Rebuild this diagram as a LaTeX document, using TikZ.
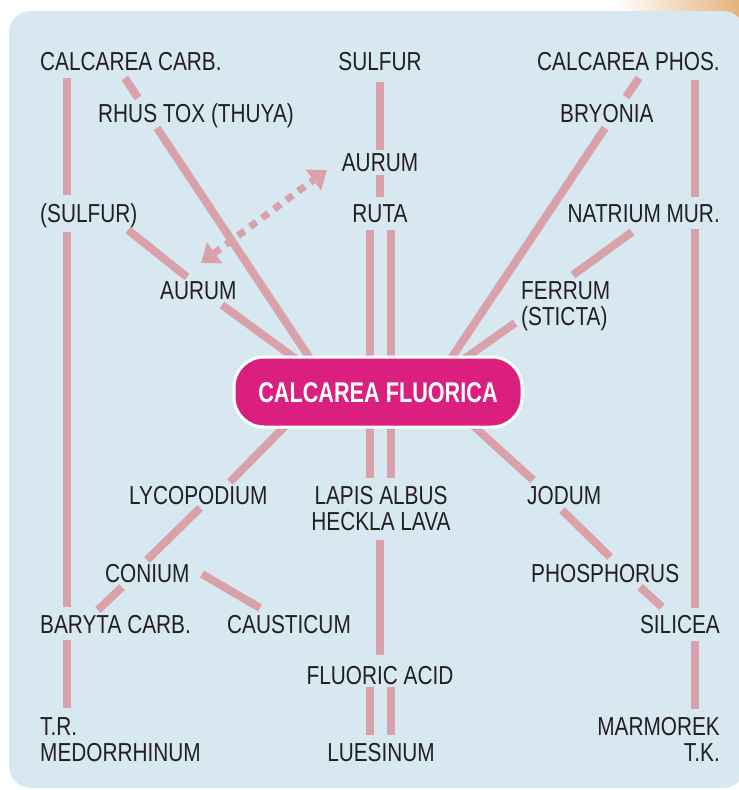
\documentclass[tikz,border=0pt]{standalone}
\usepackage{fontspec}
\setmainfont{Liberation Sans}[FakeStretch=0.80]
\newfontfamily\pillfont{Liberation Sans}[FakeStretch=0.76]
\usetikzlibrary{calc,arrows.meta}
\definecolor{bgblue}{HTML}{D8E8F1}
\definecolor{pinkln}{HTML}{D9A2AA}
\definecolor{magent}{HTML}{DA1F7E}
\definecolor{txtc}{HTML}{231F20}
\definecolor{tan}{HTML}{E6B27C}
\pgfdeclarelayer{background}
\pgfsetlayers{background,main}
\tikzset{
  lbl/.style={font=\fontsize{26}{30}\selectfont, text=txtc, inner sep=0pt},
  pill/.style={draw=white, line width=3pt, fill=magent, rounded corners=30pt,
    minimum width=288pt, minimum height=70pt, text=white, inner sep=0pt,
    text height=20pt, text depth=0pt,
    font=\pillfont\bfseries\fontsize{28.5}{30}\selectfont},
  conn/.style={draw=pinkln, line width=8pt},
  dotarrow/.style={draw=pinkln, line width=7pt, dash pattern=on 8pt off 7pt,
    {Triangle[length=17pt,width=25pt]}-{Triangle[length=17pt,width=25pt]}}
}
\begin{document}
\begin{tikzpicture}[x=1pt,y=-1pt]
\useasboundingbox (0,0) rectangle (739,790);
% labels
\node[lbl, anchor=base west] (ccarb) at (40,70) {CALCAREA CARB.};
\node[lbl, anchor=base] (sulfur) at (380,70) {SULFUR};
\node[lbl, anchor=base east] (cphos) at (720,70) {CALCAREA PHOS.};
\node[lbl, anchor=base west] (rhus) at (98,122) {RHUS TOX (THUYA)};
\node[lbl, anchor=base west] (bryonia) at (560,122) {BRYONIA};
\node[lbl, anchor=base] (aurum1) at (380,171) {AURUM};
\node[lbl, anchor=base west] (sulf2) at (40,222) {(SULFUR)};
\node[lbl, anchor=base] (ruta) at (380,222) {RUTA};
\node[lbl, anchor=base east] (natrium) at (720,222) {NATRIUM MUR.};
\node[lbl, anchor=base west] (aurum2) at (160,299) {AURUM};
\node[lbl, anchor=base west] (ferrumA) at (521,299) {FERRUM};
\node[lbl, anchor=base west] (ferrumB) at (521,325) {(STICTA)};
\node[pill] (pill) at (378,392) {CALCAREA FLUORICA};
\node[lbl, anchor=base west] (lyco) at (129,504) {LYCOPODIUM};
\node[lbl, anchor=base] (lapisA) at (381,504) {LAPIS ALBUS};
\node[lbl, anchor=base] (lapisB) at (381,530) {HECKLA LAVA};
\node[lbl, anchor=base west] (jodum) at (527,504) {JODUM};
\node[lbl, anchor=base west] (conium) at (105,582) {CONIUM};
\node[lbl, anchor=base west] (phos) at (531,582) {PHOSPHORUS};
\node[lbl, anchor=base west] (baryta) at (40,633) {BARYTA CARB.};
\node[lbl, anchor=base west] (caust) at (227,633) {CAUSTICUM};
\node[lbl, anchor=base east] (silicea) at (720,633) {SILICEA};
\node[lbl, anchor=base] (fluoric) at (380,684) {FLUORIC ACID};
\node[lbl, anchor=base west] (trmA) at (40,735) {T.R.};
\node[lbl, anchor=base west] (trmB) at (40,761) {MEDORRHINUM};
\node[lbl, anchor=base] (lues) at (381,761) {LUESINUM};
\node[lbl, anchor=base east] (marmA) at (720,735) {MARMOREK};
\node[lbl, anchor=base east] (marmB) at (720,761) {T.K.};

\begin{pgfonlayer}{background}
\shade[left color=white, right color=tan] (615,0) rectangle (739,40);
\fill[bgblue, rounded corners=22pt] (9,11) rectangle (745,788);
% left column
\draw[conn] ($(ccarb.base west)+(27,8)$) -- ($(sulf2.base west)+(27,-27)$);
\draw[conn] ($(sulf2.base west)+(27,10)$) -- ($(baryta.base west)+(27,-26)$);
\draw[conn] ($(baryta.base west)+(27,7)$) -- ($(trmA.base west)+(27,-27)$);
% right column
\draw[conn] ($(cphos.base east)+(-25,10)$) -- ($(natrium.base east)+(-25,-25)$);
\draw[conn] ($(natrium.base east)+(-25,7)$) -- ($(silicea.base east)+(-25,-25)$);
\draw[conn] ($(silicea.base east)+(-25,8)$) -- ($(marmA.base east)+(-25,-26)$);
% centre column
\draw[conn] ($(sulfur.base)+(0,12)$) -- ($(aurum1.base)+(0,-21)$);
\draw[conn] ($(aurum1.base)+(0,4)$) -- ($(ruta.base)+(0,-25)$);
\draw[conn] ($(ruta.base)+(-10,8)$) -- ($(pill.center)+(-8,-22)$);
\draw[conn] ($(ruta.base)+(11,8)$) -- ($(pill.center)+(13,-22)$);
\draw[conn] ($(pill.center)+(-8,23)$) -- ($(lapisA.base)+(-11,-26)$);
\draw[conn] ($(pill.center)+(13,23)$) -- ($(lapisA.base)+(10,-26)$);
\draw[conn] ($(lapisB.base)+(-1,10)$) -- ($(fluoric.base)+(0,-29)$);
\draw[conn] ($(fluoric.base)+(-10,3)$) -- ($(lues.base)+(-11,-26)$);
\draw[conn] ($(fluoric.base)+(11,3)$) -- ($(lues.base)+(10,-26)$);
% diagonals
\draw[conn] ($(ccarb.base west)+(85,8)$) -- ($(rhus.base west)+(40,-24)$);
\draw[conn] ($(rhus.base west)+(59,6)$) -- ($(pill.center)+(-63,-26)$);
\draw[conn] ($(cphos.base east)+(-81,8)$) -- ($(bryonia.base west)+(66,-25)$);
\draw[conn] ($(bryonia.base west)+(45,6)$) -- ($(pill.center)+(68,-26)$);
\draw[conn] ($(sulf2.base west)+(88,8)$) -- ($(aurum2.base west)+(27,-22)$);
\draw[conn] ($(aurum2.base west)+(62,6)$) -- ($(pill.center)+(-78,-30)$);
\draw[conn] ($(natrium.base east)+(-88,10)$) -- ($(ferrumA.base west)+(52,-24)$);
\draw[conn] ($(ferrumB.base west)+(-6,-2)$) -- ($(pill.center)+(82,-30)$);
\draw[conn] ($(pill.center)+(-86,27)$) -- ($(lyco.base west)+(101,-22)$);
\draw[conn] ($(lyco.base west)+(71,4)$) -- ($(conium.base west)+(42,-22)$);
\draw[conn] ($(conium.base west)+(17,5)$) -- ($(baryta.base west)+(58,-23)$);
\draw[conn] ($(conium.base west)+(97,-8)$) -- ($(caust.base west)+(33,-25)$);
\draw[conn] ($(pill.center)+(89,28)$) -- ($(jodum.base west)+(6,-24)$);
\draw[conn] ($(jodum.base west)+(35,6)$) -- ($(phos.base west)+(79,-25)$);
\draw[conn] ($(phos.base west)+(109,5)$) -- ($(silicea.base east)+(-58,-26)$);
% dotted double arrow
\draw[dotarrow] ($(aurum2.base west)+(41,-36)$) -- ($(aurum1.base)+(-53,-1)$);
\end{pgfonlayer}
\end{tikzpicture}
\end{document}
